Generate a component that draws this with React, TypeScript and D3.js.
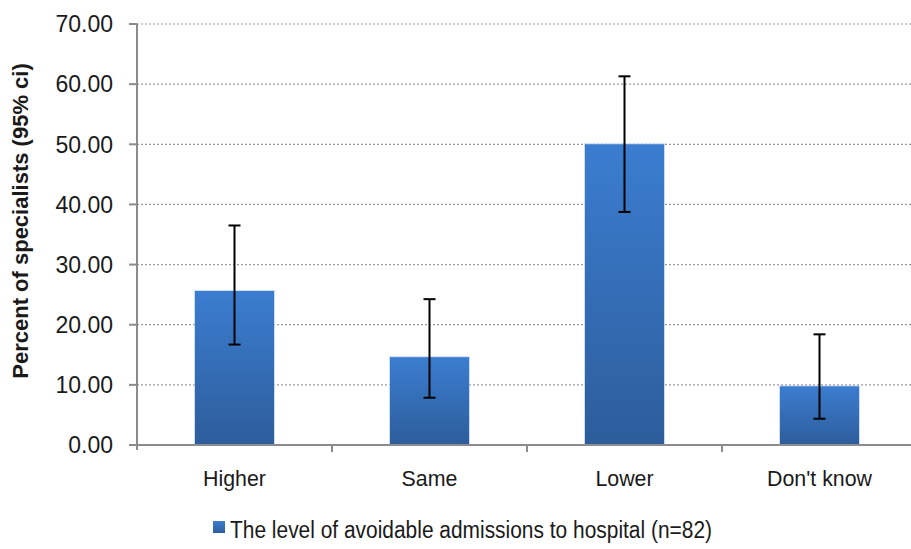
import React from "react";
import * as d3 from "d3";

const categories = ["Higher", "Same", "Lower", "Don't know"];
const values = [25.6, 14.6, 50.0, 9.76];
const ciLow = [16.7, 7.86, 38.75, 4.37];
const ciHigh = [36.5, 24.25, 61.3, 18.4];
const yTicks = [0, 10, 20, 30, 40, 50, 60, 70];
const legendLabel = "The level of avoidable admissions to hospital (n=82)";
const yTitle = "Percent of specialists (95% ci)";

const W = 911;
const H = 549;
const FONT = "'Liberation Sans Narrow', 'Arial Narrow', 'Liberation Sans', Arial, sans-serif";

export default function App() {
  const left = 137;
  const right = 917;
  const top = 24;
  const bottom = 445;
  const band = (right - left) / categories.length;
  const x = d3.scalePoint<string>().domain(categories).range([left + band / 2, right - band / 2]);
  const y = d3.scaleLinear().domain([0, 70]).range([bottom, top]);
  const bw = 79;
  const capW = 12;

  return (
    <svg width={W} height={H} style={{ position: "absolute", left: 0, top: 0, background: "#fff" }}>
      <defs>
        <linearGradient id="barGrad" x1="0" y1="0" x2="0" y2="1">
          <stop offset="0" stopColor="#3b7dd0" />
          <stop offset="1" stopColor="#2d5d9b" />
        </linearGradient>
      </defs>
      {yTicks.filter((t) => t > 0).map((t) => (
        <line key={"g" + t} x1={left} x2={W} y1={y(t)} y2={y(t)} stroke="#9a9a9a" strokeWidth={1.2} strokeDasharray="2,2" />
      ))}
      {categories.map((c, i) => {
        const cx = x(c) as number;
        return (
          <g key={c}>
            <rect x={cx - bw / 2 - 1} y={y(values[i]) - 1} width={bw + 2} height={bottom - y(values[i]) + 1} fill="#a9c6ec" opacity={0.6} />
            <rect x={cx - bw / 2} y={y(values[i])} width={bw} height={bottom - y(values[i])} fill="url(#barGrad)" />
          </g>
        );
      })}
      <line x1={left} x2={left} y1={top} y2={bottom + 5} stroke="#8c8c8c" strokeWidth={2} />
      <line x1={left} x2={W} y1={bottom} y2={bottom} stroke="#8c8c8c" strokeWidth={2} />
      {yTicks.map((t) => (
        <g key={"t" + t}>
          <line x1={left - 8} x2={left} y1={y(t)} y2={y(t)} stroke="#8c8c8c" strokeWidth={2} />
          <text x={left - 24} y={y(t)} dy="0.36em" textAnchor="end" fontFamily={FONT} fontSize={23} fill="#1a1a1a">
            {t.toFixed(2)}
          </text>
        </g>
      ))}
      {categories.map((c, i) => (
        i > 0 ? <line key={"ct" + i} x1={left + band * i} x2={left + band * i} y1={bottom} y2={bottom + 7} stroke="#8c8c8c" strokeWidth={2} /> : null
      ))}
      {categories.map((c, i) => {
        const cx = x(c) as number;
        return (
          <g key={"e" + c} stroke="#000" strokeWidth={2}>
            <line x1={cx} x2={cx} y1={y(ciHigh[i])} y2={y(ciLow[i])} />
            <line x1={cx - capW / 2} x2={cx + capW / 2} y1={y(ciHigh[i])} y2={y(ciHigh[i])} />
            <line x1={cx - capW / 2} x2={cx + capW / 2} y1={y(ciLow[i])} y2={y(ciLow[i])} />
          </g>
        );
      })}
      {categories.map((c) => (
        <text key={"l" + c} transform={`translate(${x(c)}, 486) scale(0.93, 1)`} textAnchor="middle" fontFamily={FONT} fontSize={23} fill="#1a1a1a">
          {c}
        </text>
      ))}
      <text transform={`translate(28, 221) rotate(-90)`} textAnchor="middle" fontFamily={FONT} fontWeight="bold" fontSize={22} fill="#1a1a1a">
        {yTitle}
      </text>
      <rect x={213} y={521} width={12} height={12} fill="url(#barGrad)" />
      <text x={230} y={538} fontFamily={FONT} fontSize={23} fill="#1a1a1a" textLength={482} lengthAdjust="spacingAndGlyphs">
        {legendLabel}
      </text>
    </svg>
  );
}
